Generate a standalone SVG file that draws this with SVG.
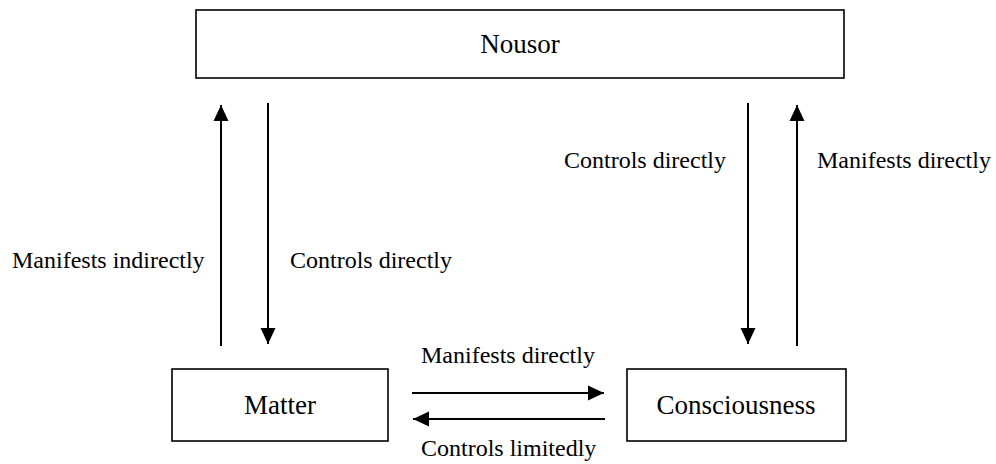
<svg xmlns="http://www.w3.org/2000/svg" width="996" height="464" viewBox="0 0 996 464">
<style>
.box{fill:#fff;stroke:#000;stroke-width:1.6}
.nt{font-family:"Liberation Serif","Times New Roman",serif;font-size:27px;fill:#000;text-anchor:middle}
.lt{font-family:"Liberation Serif","Times New Roman",serif;font-size:24px;fill:#000}
.cn{stroke:#000;stroke-width:2;fill:none;marker-end:url(#ah)}
</style>
<defs>
<marker id="ah" markerUnits="userSpaceOnUse" markerWidth="16" markerHeight="16" viewBox="0 0 16 16" refX="16" refY="8" orient="auto">
<polygon points="0,0.5 16,8 0,15.5" fill="#000"/>
</marker>
</defs>
<g id="nousor"><rect class="box" x="196" y="10" width="648" height="68"/><text class="nt" x="520" y="53">Nousor</text></g>
<g id="matter"><rect class="box" x="172" y="369" width="216" height="72"/><text class="nt" x="280" y="414">Matter</text></g>
<g id="consciousness"><rect class="box" x="627" y="369" width="219" height="72"/><text class="nt" x="736" y="414">Consciousness</text></g>
<g id="connectors">
<line class="cn" x1="221" y1="346" x2="221" y2="105"/>
<line class="cn" x1="268" y1="103" x2="268" y2="344"/>
<line class="cn" x1="748" y1="103" x2="748" y2="344"/>
<line class="cn" x1="797" y1="346" x2="797" y2="105"/>
<line class="cn" x1="412" y1="393" x2="604" y2="393"/>
<line class="cn" x1="605" y1="419" x2="413" y2="419"/>
</g>
<g id="labels">
<text class="lt" x="12" y="268">Manifests indirectly</text>
<text class="lt" x="290" y="268">Controls directly</text>
<text class="lt" x="564" y="168">Controls directly</text>
<text class="lt" x="817" y="168">Manifests directly</text>
<text class="lt" x="421" y="363">Manifests directly</text>
<text class="lt" x="421" y="456">Controls limitedly</text>
</g>
</svg>
